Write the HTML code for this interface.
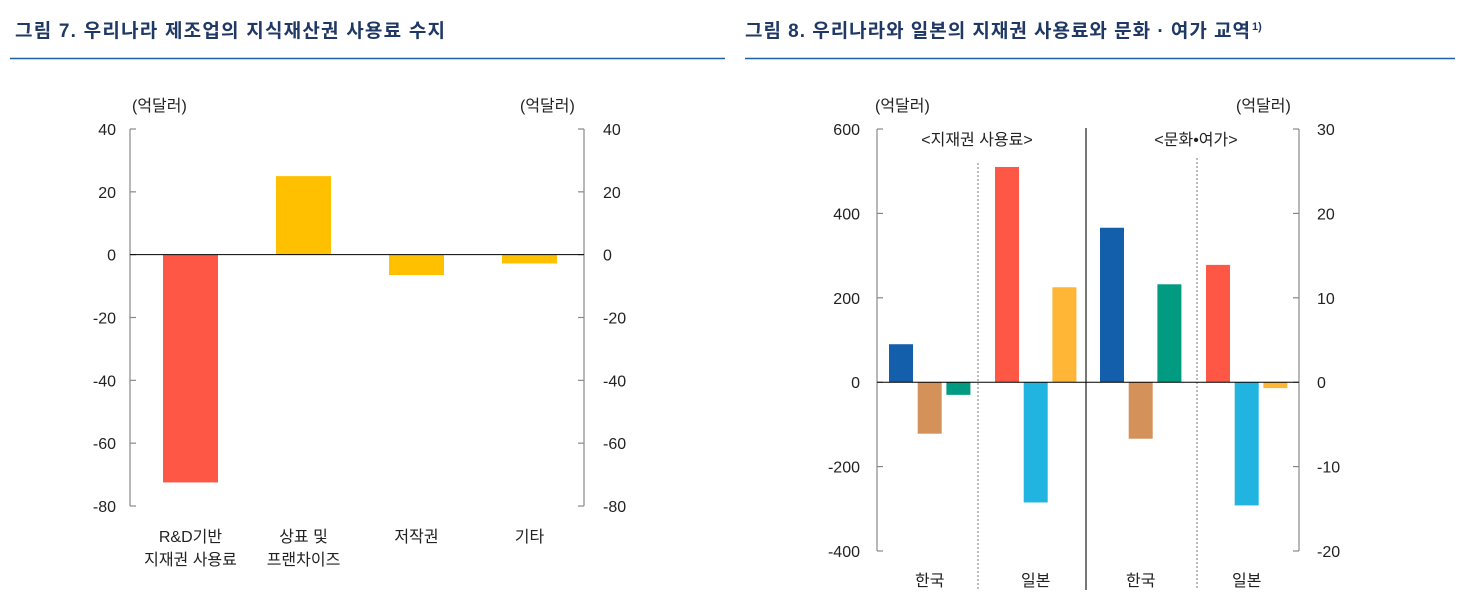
<!DOCTYPE html>
<html><head><meta charset="utf-8"><style>
body{margin:0;background:#fff;width:1465px;height:609px;overflow:hidden;font-family:"Liberation Sans","Noto Sans CJK KR",sans-serif}
svg text{font-family:"Liberation Sans","Noto Sans CJK KR",sans-serif}
</style></head><body>
<svg id="s" width="1465" height="609" xmlns="http://www.w3.org/2000/svg">
<text x="15" y="37" font-size="19" font-weight="bold" fill="#1f3864" textLength="430" lengthAdjust="spacing">그림 7. 우리나라 제조업의 지식재산권 사용료 수지</text>
<line x1="10" y1="58.5" x2="725" y2="58.5" stroke="#1f5fae" stroke-width="1.5"/>
<text x="745" y="37" font-size="19" font-weight="bold" fill="#1f3864" textLength="505" lengthAdjust="spacing">그림 8. 우리나라와 일본의 지재권 사용료와 문화 · 여가 교역</text>
<text x="1252" y="30" font-size="11" font-weight="bold" fill="#1f3864">1)</text>
<line x1="745" y1="58.5" x2="1455" y2="58.5" stroke="#1f5fae" stroke-width="1.5"/>
<g id="c7"></g><g id="c8"></g>
</svg>
<script>
const c7Categories=[["R&D기반","지재권 사용료"],["상표 및","프랜차이즈"],["저작권"],["기타"]];
const c7Values=[-72.5,25,-6.5,-2.8];
const c7Colors=["#ff5745","#ffc000","#ffc000","#ffc000"];
const c7Ticks=[40,20,0,-20,-40,-60,-80];

const c8Groups=["한국","일본","한국","일본"];
const c8IpKorea=[90,-122,-30];
const c8IpJapan=[510,-285,225];
const c8CultureKorea=[18.3,-6.7,11.6];
const c8CultureJapan=[13.9,-14.6,-0.7];
const c8LeftTicks=[600,400,200,0,-200,-400];
const c8RightTicks=[30,20,10,0,-10,-20];

const NS="http://www.w3.org/2000/svg";
const FS=16;
function mk(parent,tag,attrs,txt){const e=document.createElementNS(NS,tag);for(const k in attrs)e.setAttribute(k,attrs[k]);if(txt!==undefined)e.textContent=txt;parent.appendChild(e);return e;}

// Chart 7
(function(){
const g=document.getElementById('c7');
const L=130,R=584,yTop=129,yBot=506,vMax=40,vMin=-80;
const y=v=>yTop+(vMax-v)/(vMax-vMin)*(yBot-yTop);
const ax={stroke:"#888","stroke-width":1.2,fill:"none"};
let e=mk(g,'line',Object.assign({x1:L,y1:yTop,x2:L,y2:yBot},ax));

e=mk(g,'line',Object.assign({x1:R,y1:yTop,x2:R,y2:yBot},ax));

c7Ticks.forEach(t=>{
 mk(g,'line',Object.assign({x1:L,y1:y(t),x2:L+6,y2:y(t)},ax));
 mk(g,'line',Object.assign({x1:R-6,y1:y(t),x2:R,y2:y(t)},ax));
 e=mk(g,'text',{x:L-14,y:y(t)+6,"font-size":FS,"text-anchor":"end",fill:"#222"},t);
 
 e=mk(g,'text',{x:R+19,y:y(t)+6,"font-size":FS,"text-anchor":"start",fill:"#222"},t);
 
});
e=mk(g,'text',{x:132,y:111,"font-size":FS,fill:"#222"},"(억달러)");

e=mk(g,'text',{x:520,y:111,"font-size":FS,fill:"#222"},"(억달러)");

const step=113,bw=55;
c7Values.forEach((v,i)=>{
 const cx=190.5+step*i;
 const r=mk(g,'rect',{x:cx-bw/2,y:Math.min(y(v),y(0)),width:bw,height:Math.abs(y(v)-y(0)),fill:c7Colors[i]});
 
 c7Categories[i].forEach((ln,j)=>{
  const t=mk(g,'text',{x:cx,y:542+j*23,"font-size":FS,"text-anchor":"middle",fill:"#222"},ln);
  
 });
});
e=mk(g,'line',{x1:L,y1:y(0),x2:R,y2:y(0),stroke:"#000","stroke-width":1});

})();

// Chart 8
(function(){
const g=document.getElementById('c8');
const L=877,R=1299,yTop=129,yBot=551,vMax=600,vMin=-400;
const y=v=>yTop+(vMax-v)/(vMax-vMin)*(yBot-yTop);
const yr=v=>y(v*20);
const ax={stroke:"#888","stroke-width":1.2,fill:"none"};
let e=mk(g,'line',Object.assign({x1:L,y1:yTop,x2:L,y2:yBot},ax));

e=mk(g,'line',Object.assign({x1:R,y1:yTop,x2:R,y2:yBot},ax));

c8LeftTicks.forEach(t=>{
 mk(g,'line',Object.assign({x1:L,y1:y(t),x2:L+6,y2:y(t)},ax));
 e=mk(g,'text',{x:L-17,y:y(t)+6,"font-size":FS,"text-anchor":"end",fill:"#222"},t);
 
});
c8RightTicks.forEach(t=>{
 mk(g,'line',Object.assign({x1:R-6,y1:yr(t),x2:R,y2:yr(t)},ax));
 e=mk(g,'text',{x:R+18,y:yr(t)+6,"font-size":FS,"text-anchor":"start",fill:"#222"},t);
 
});
e=mk(g,'text',{x:875,y:111,"font-size":FS,fill:"#222"},"(억달러)");

e=mk(g,'text',{x:1236,y:111,"font-size":FS,fill:"#222"},"(억달러)");

e=mk(g,'line',{x1:1086,y1:128,x2:1086,y2:590,stroke:"#777","stroke-width":2});

[[978,163],[1197,158]].forEach(p=>{
 e=mk(g,'line',{x1:p[0],y1:p[1],x2:p[0],y2:590,stroke:"#777","stroke-width":1,"stroke-dasharray":"2,2"});
 
});
e=mk(g,'text',{x:977,y:145,"font-size":FS,"text-anchor":"middle",fill:"#222"},"<지재권 사용료>");

e=mk(g,'text',{x:1196,y:145,"font-size":FS,"text-anchor":"middle",fill:"#222"},"<문화•여가>");

const groups=[[c8IpKorea,["#135fab","#d4925a","#009b80"],y],[c8IpJapan,["#ff5745","#22b4e0","#ffb536"],y],[c8CultureKorea,["#135fab","#d4925a","#009b80"],yr],[c8CultureJapan,["#ff5745","#22b4e0","#ffb536"],yr]];
const starts=[889,995,1100,1206],bw=24,gap=28.7;
groups.forEach((gr,gi)=>{
 const [vals,cols,sc]=gr;
 vals.forEach((v,i)=>{
  const x=starts[gi]+i*gap;
  const r=mk(g,'rect',{x:x,y:Math.min(sc(v),sc(0)),width:bw,height:Math.abs(sc(v)-sc(0)),fill:cols[i]});
  
 });
 const t=mk(g,'text',{x:starts[gi]+gap+bw/2,y:586,"font-size":FS,"text-anchor":"middle",fill:"#222"},c8Groups[gi]);
 
});
e=mk(g,'line',{x1:L,y1:y(0),x2:R,y2:y(0),stroke:"#000","stroke-width":1});

})();
</script>
</body></html>
